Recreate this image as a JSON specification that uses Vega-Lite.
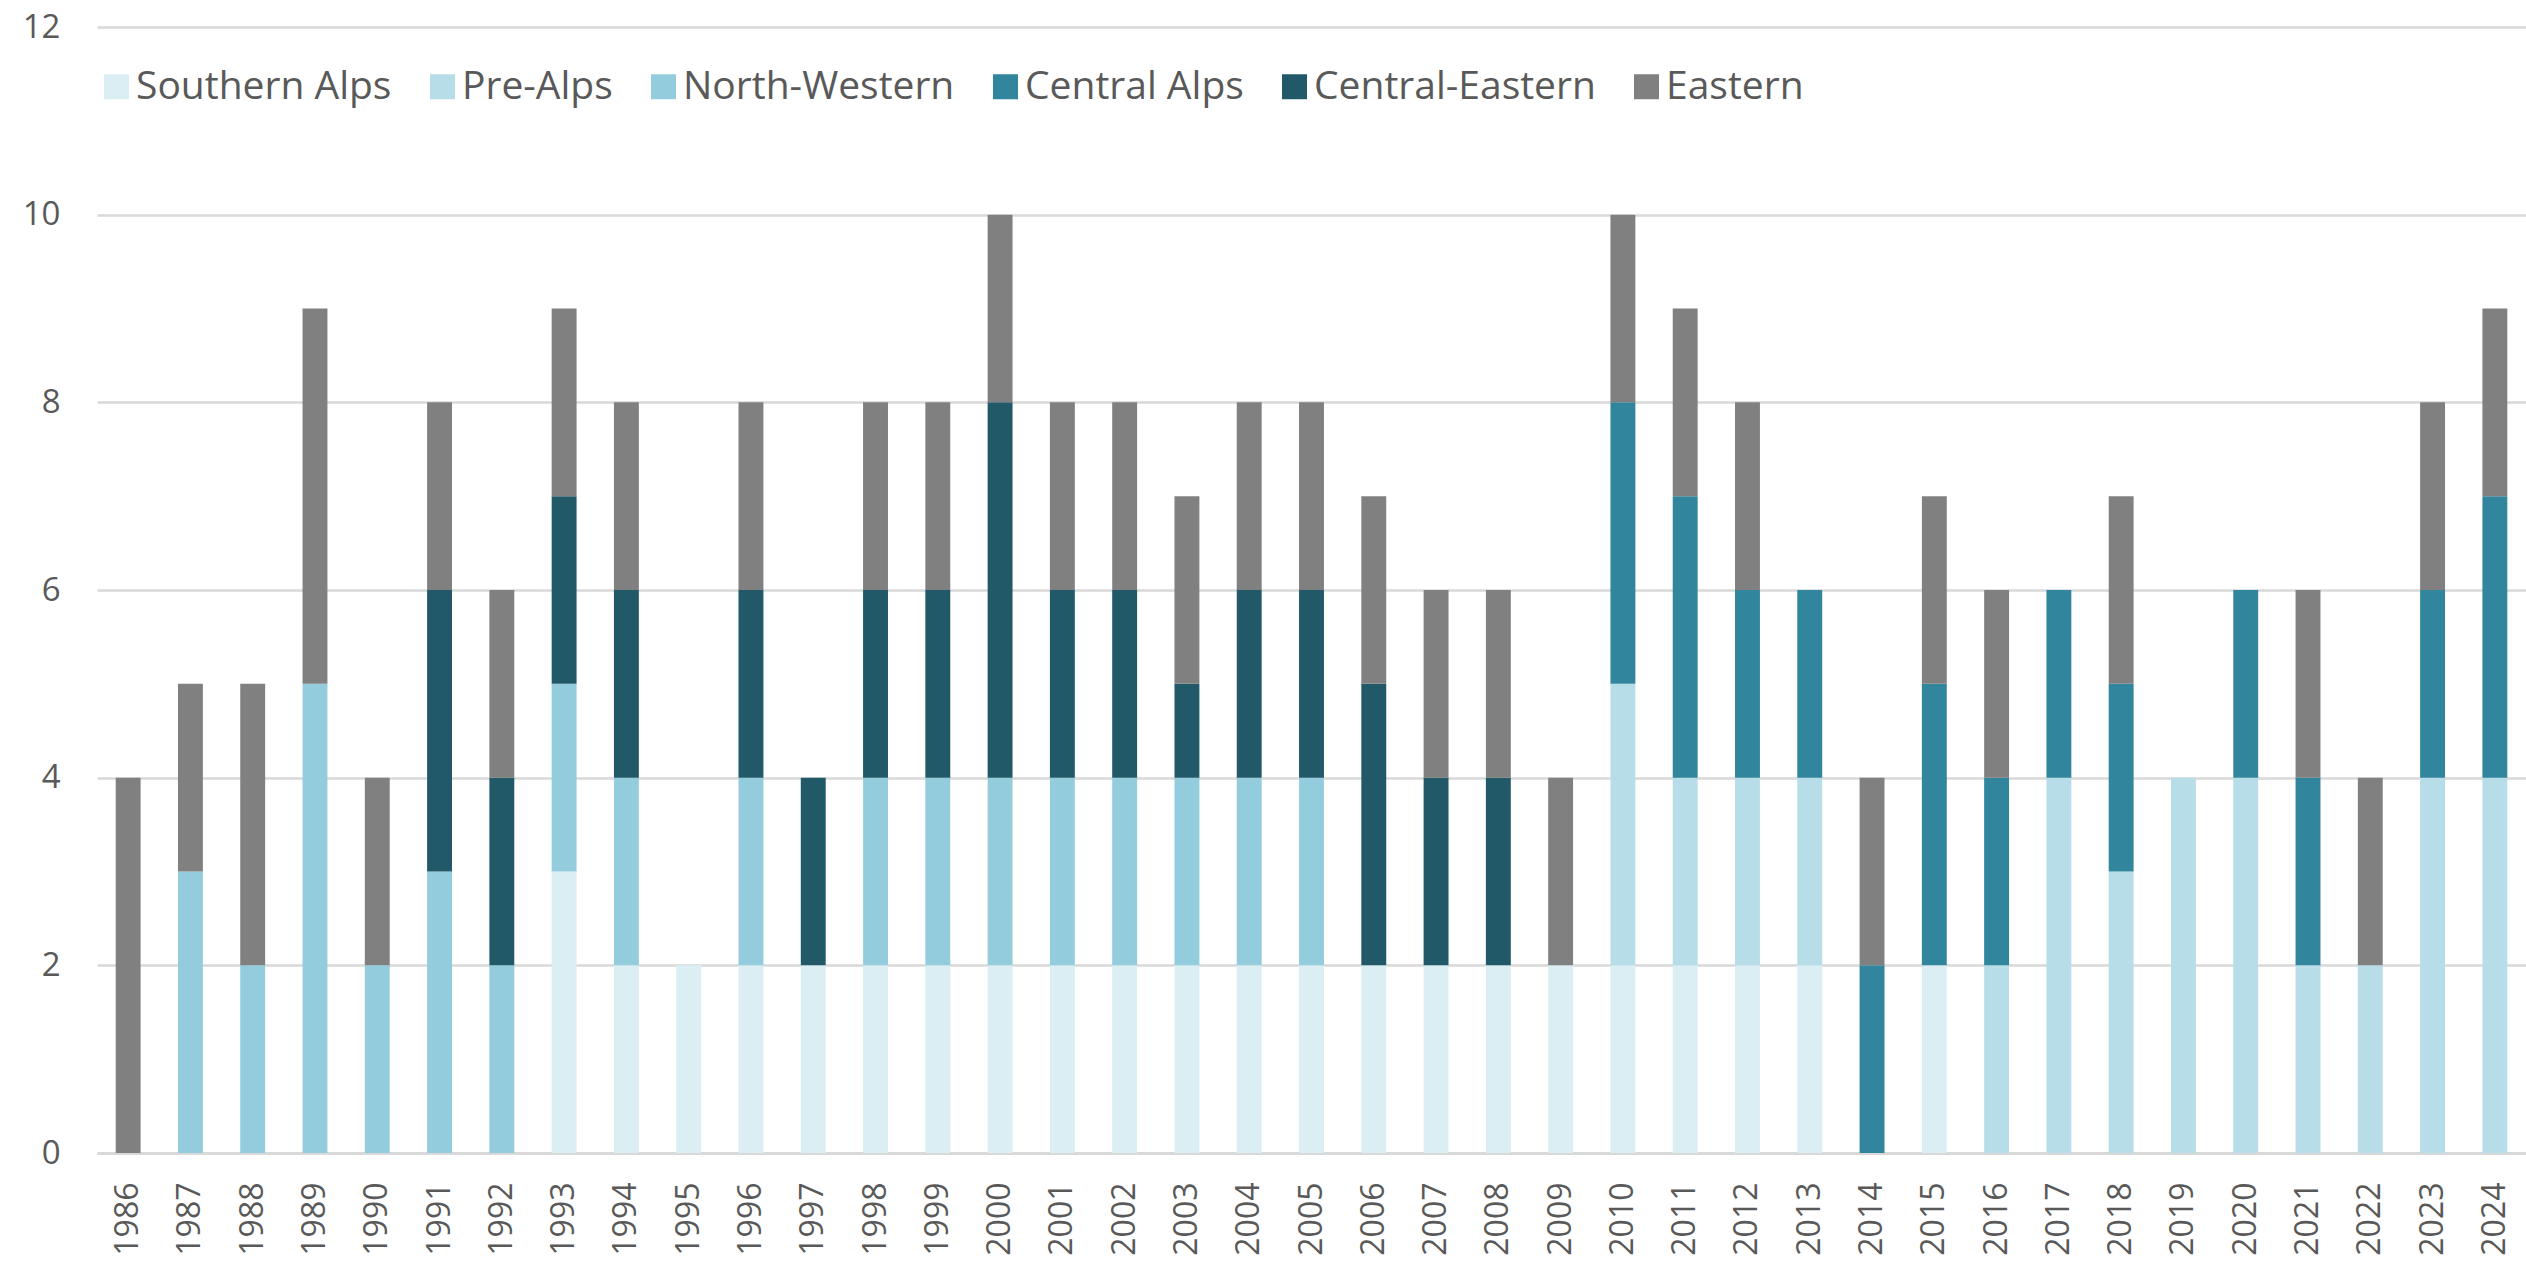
{
  "$schema": "https://vega.github.io/schema/vega-lite/v6.json",
  "width": 2429,
  "height": 1126,
  "autosize": {"type": "none"},
  "padding": {"left": 97, "top": 27, "right": 0, "bottom": 113},
  "background": "white",
  "config": {
    "view": {"stroke": null},
    "font": "Open Sans",
    "axis": {"labelFont": "Open Sans", "labelColor": "#595959"},
    "legend": {"labelFont": "Open Sans", "labelColor": "#595959"}
  },
  "data": {
    "values": [
      {"year": "1986", "region": "Eastern", "count": 4},
      {"year": "1987", "region": "North-Western", "count": 3},
      {"year": "1987", "region": "Eastern", "count": 2},
      {"year": "1988", "region": "North-Western", "count": 2},
      {"year": "1988", "region": "Eastern", "count": 3},
      {"year": "1989", "region": "North-Western", "count": 5},
      {"year": "1989", "region": "Eastern", "count": 4},
      {"year": "1990", "region": "North-Western", "count": 2},
      {"year": "1990", "region": "Eastern", "count": 2},
      {"year": "1991", "region": "North-Western", "count": 3},
      {"year": "1991", "region": "Central-Eastern", "count": 3},
      {"year": "1991", "region": "Eastern", "count": 2},
      {"year": "1992", "region": "North-Western", "count": 2},
      {"year": "1992", "region": "Central-Eastern", "count": 2},
      {"year": "1992", "region": "Eastern", "count": 2},
      {"year": "1993", "region": "Southern Alps", "count": 3},
      {"year": "1993", "region": "North-Western", "count": 2},
      {"year": "1993", "region": "Central-Eastern", "count": 2},
      {"year": "1993", "region": "Eastern", "count": 2},
      {"year": "1994", "region": "Southern Alps", "count": 2},
      {"year": "1994", "region": "North-Western", "count": 2},
      {"year": "1994", "region": "Central-Eastern", "count": 2},
      {"year": "1994", "region": "Eastern", "count": 2},
      {"year": "1995", "region": "Southern Alps", "count": 2},
      {"year": "1996", "region": "Southern Alps", "count": 2},
      {"year": "1996", "region": "North-Western", "count": 2},
      {"year": "1996", "region": "Central-Eastern", "count": 2},
      {"year": "1996", "region": "Eastern", "count": 2},
      {"year": "1997", "region": "Southern Alps", "count": 2},
      {"year": "1997", "region": "Central-Eastern", "count": 2},
      {"year": "1998", "region": "Southern Alps", "count": 2},
      {"year": "1998", "region": "North-Western", "count": 2},
      {"year": "1998", "region": "Central-Eastern", "count": 2},
      {"year": "1998", "region": "Eastern", "count": 2},
      {"year": "1999", "region": "Southern Alps", "count": 2},
      {"year": "1999", "region": "North-Western", "count": 2},
      {"year": "1999", "region": "Central-Eastern", "count": 2},
      {"year": "1999", "region": "Eastern", "count": 2},
      {"year": "2000", "region": "Southern Alps", "count": 2},
      {"year": "2000", "region": "North-Western", "count": 2},
      {"year": "2000", "region": "Central-Eastern", "count": 4},
      {"year": "2000", "region": "Eastern", "count": 2},
      {"year": "2001", "region": "Southern Alps", "count": 2},
      {"year": "2001", "region": "North-Western", "count": 2},
      {"year": "2001", "region": "Central-Eastern", "count": 2},
      {"year": "2001", "region": "Eastern", "count": 2},
      {"year": "2002", "region": "Southern Alps", "count": 2},
      {"year": "2002", "region": "North-Western", "count": 2},
      {"year": "2002", "region": "Central-Eastern", "count": 2},
      {"year": "2002", "region": "Eastern", "count": 2},
      {"year": "2003", "region": "Southern Alps", "count": 2},
      {"year": "2003", "region": "North-Western", "count": 2},
      {"year": "2003", "region": "Central-Eastern", "count": 1},
      {"year": "2003", "region": "Eastern", "count": 2},
      {"year": "2004", "region": "Southern Alps", "count": 2},
      {"year": "2004", "region": "North-Western", "count": 2},
      {"year": "2004", "region": "Central-Eastern", "count": 2},
      {"year": "2004", "region": "Eastern", "count": 2},
      {"year": "2005", "region": "Southern Alps", "count": 2},
      {"year": "2005", "region": "North-Western", "count": 2},
      {"year": "2005", "region": "Central-Eastern", "count": 2},
      {"year": "2005", "region": "Eastern", "count": 2},
      {"year": "2006", "region": "Southern Alps", "count": 2},
      {"year": "2006", "region": "Central-Eastern", "count": 3},
      {"year": "2006", "region": "Eastern", "count": 2},
      {"year": "2007", "region": "Southern Alps", "count": 2},
      {"year": "2007", "region": "Central-Eastern", "count": 2},
      {"year": "2007", "region": "Eastern", "count": 2},
      {"year": "2008", "region": "Southern Alps", "count": 2},
      {"year": "2008", "region": "Central-Eastern", "count": 2},
      {"year": "2008", "region": "Eastern", "count": 2},
      {"year": "2009", "region": "Southern Alps", "count": 2},
      {"year": "2009", "region": "Eastern", "count": 2},
      {"year": "2010", "region": "Southern Alps", "count": 2},
      {"year": "2010", "region": "Pre-Alps", "count": 3},
      {"year": "2010", "region": "Central Alps", "count": 3},
      {"year": "2010", "region": "Eastern", "count": 2},
      {"year": "2011", "region": "Southern Alps", "count": 2},
      {"year": "2011", "region": "Pre-Alps", "count": 2},
      {"year": "2011", "region": "Central Alps", "count": 3},
      {"year": "2011", "region": "Eastern", "count": 2},
      {"year": "2012", "region": "Southern Alps", "count": 2},
      {"year": "2012", "region": "Pre-Alps", "count": 2},
      {"year": "2012", "region": "Central Alps", "count": 2},
      {"year": "2012", "region": "Eastern", "count": 2},
      {"year": "2013", "region": "Southern Alps", "count": 2},
      {"year": "2013", "region": "Pre-Alps", "count": 2},
      {"year": "2013", "region": "Central Alps", "count": 2},
      {"year": "2014", "region": "Central Alps", "count": 2},
      {"year": "2014", "region": "Eastern", "count": 2},
      {"year": "2015", "region": "Southern Alps", "count": 2},
      {"year": "2015", "region": "Central Alps", "count": 3},
      {"year": "2015", "region": "Eastern", "count": 2},
      {"year": "2016", "region": "Pre-Alps", "count": 2},
      {"year": "2016", "region": "Central Alps", "count": 2},
      {"year": "2016", "region": "Eastern", "count": 2},
      {"year": "2017", "region": "Pre-Alps", "count": 4},
      {"year": "2017", "region": "Central Alps", "count": 2},
      {"year": "2018", "region": "Pre-Alps", "count": 3},
      {"year": "2018", "region": "Central Alps", "count": 2},
      {"year": "2018", "region": "Eastern", "count": 2},
      {"year": "2019", "region": "Pre-Alps", "count": 4},
      {"year": "2020", "region": "Pre-Alps", "count": 4},
      {"year": "2020", "region": "Central Alps", "count": 2},
      {"year": "2021", "region": "Pre-Alps", "count": 2},
      {"year": "2021", "region": "Central Alps", "count": 2},
      {"year": "2021", "region": "Eastern", "count": 2},
      {"year": "2022", "region": "Pre-Alps", "count": 2},
      {"year": "2022", "region": "Eastern", "count": 2},
      {"year": "2023", "region": "Pre-Alps", "count": 4},
      {"year": "2023", "region": "Central Alps", "count": 2},
      {"year": "2023", "region": "Eastern", "count": 2},
      {"year": "2024", "region": "Pre-Alps", "count": 4},
      {"year": "2024", "region": "Central Alps", "count": 3},
      {"year": "2024", "region": "Eastern", "count": 2}
    ]
  },
  "mark": {"type": "bar"},
  "encoding": {
    "x": {
      "field": "year",
      "type": "ordinal",
      "scale": {"paddingInner": 0.6, "paddingOuter": 0.3},
      "axis": {
        "title": null,
        "labelAngle": -90,
        "labelFontSize": 32,
        "labelPadding": 29,
        "ticks": false,
        "domain": true,
        "domainColor": "#D9D9D9",
        "domainWidth": 3,
        "grid": false
      }
    },
    "y": {
      "field": "count",
      "type": "quantitative",
      "aggregate": "sum",
      "stack": "zero",
      "scale": {"domain": [0, 12], "nice": false},
      "axis": {
        "title": null,
        "values": [0, 2, 4, 6, 8, 10, 12],
        "labelFontSize": 33,
        "labelPadding": 37,
        "ticks": false,
        "domain": false,
        "grid": true,
        "gridColor": "#D9D9D9",
        "gridWidth": 2.5
      }
    },
    "color": {
      "field": "region",
      "type": "nominal",
      "sort": ["Southern Alps", "Pre-Alps", "North-Western", "Central Alps", "Central-Eastern", "Eastern"],
      "scale": {
        "domain": ["Southern Alps", "Pre-Alps", "North-Western", "Central Alps", "Central-Eastern", "Eastern"],
        "range": ["#DAEEF3", "#B7DEE8", "#93CDDD", "#31859C", "#215968", "#808080"]
      },
      "legend": {
        "title": null,
        "orient": "none",
        "direction": "horizontal",
        "legendX": 0,
        "legendY": 40,
        "symbolType": "square",
        "symbolSize": 625,
        "symbolStrokeWidth": 0,
        "labelFontSize": 39,
        "labelOffset": 0,
        "columnPadding": 31,
        "labelLimit": 1000
      }
    },
    "order": {"field": "stack_position", "type": "quantitative"}
  }
}
